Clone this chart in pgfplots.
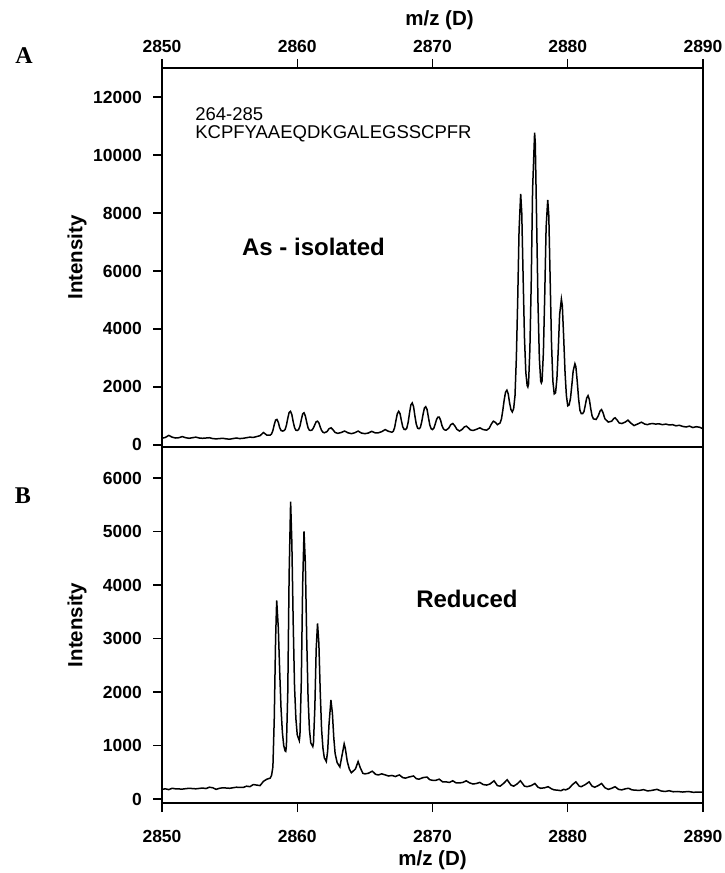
\documentclass[border=0pt]{standalone}
\usepackage{pgfplots}
\pgfplotsset{compat=1.18}
\usepackage{fontspec}
\setmainfont{Liberation Sans}
\newfontfamily\serifbf{Liberation Serif}
\begin{document}
\begin{tikzpicture}
\useasboundingbox (-162pt,-70pt) rectangle (562pt,803pt);
\pgfplotsset{
  every axis/.append style={
    scale only axis, width=541pt,
    xmin=2850, xmax=2890,
    axis line style={line width=1.6pt},
    tick style={line width=1.4pt, black},
    tick align=outside,
    ytick pos=left,
    tick label style={font=\fontsize{17.5}{20}\selectfont\bfseries},
    label style={font=\fontsize{20.5}{23}\selectfont\bfseries},
    xtick={2850,2860,2870,2880,2890},
    /pgf/number format/assume math mode=true,
    /pgf/number format/set thousands separator={},
    yticklabel style={anchor=east, inner sep=0pt},
    yticklabel shift=11pt,
    scaled y ticks=false,
  },
}
% ---------------- bottom panel (B) ----------------
\begin{axis}[
  height=356pt,
  ymin=-75, ymax=6580,
  ytick={0,1000,2000,3000,4000,5000,6000},
  xtick pos=bottom,
  xticklabel pos=bottom,
  major tick length=9pt,
  xticklabel style={anchor=north, inner sep=0pt},
  xticklabel shift=18pt,
  xlabel={m/z (D)},
  xlabel style={at={(axis description cs:0.5,-0.1615)}, anchor=center},
  ylabel={Intensity},
  ylabel style={at={(axis description cs:-0.157,0.5)}, anchor=center},
]
\addplot[black, line width=1.5pt] coordinates {
(2850.0,180) (2850.25,190) (2850.5,175) (2850.75,200) (2851.0,190) (2851.5,185) (2852.0,200) (2852.5,190) (2853.0,205) (2853.25,195) (2853.5,220) (2853.75,210) (2854.0,180) (2854.25,200) (2854.5,210) (2855.0,200) (2855.5,220) (2856.0,215) (2856.25,240) (2856.5,230) (2856.75,270) (2857.0,260) (2857.25,250) (2857.5,330) (2857.75,370) (2858.0,390) (2858.1,440) (2858.2,600)
(2858.3,1500) (2858.4,3000) (2858.48,3710) (2858.6,3200) (2858.7,2400) (2858.8,1700) (2858.9,1250) (2859.0,1000) (2859.1,900) (2859.15,890)
(2859.2,1000) (2859.3,2000) (2859.4,4200) (2859.51,5560) (2859.6,4800) (2859.7,3300) (2859.8,2100) (2859.9,1500) (2860.0,1200) (2860.15,1090)
(2860.2,1200) (2860.3,2200) (2860.4,4000) (2860.5,5000) (2860.6,4400) (2860.7,3000) (2860.8,1900) (2860.9,1300) (2861.0,1050) (2861.15,980)
(2861.2,1050) (2861.3,1700) (2861.4,2800) (2861.5,3280) (2861.6,2900) (2861.7,2000) (2861.8,1300) (2861.9,950) (2862.0,770) (2862.15,700)
(2862.25,900) (2862.35,1400) (2862.49,1850) (2862.6,1600) (2862.7,1150) (2862.8,850) (2862.95,680) (2863.15,600)
(2863.3,800) (2863.47,1030) (2863.55,950) (2863.7,700) (2863.85,560) (2864.0,490)
(2864.3,560) (2864.5,700) (2864.65,590) (2864.85,480) (2865.0,470)
(2865.25,480) (2865.55,520) (2865.8,460) (2866.0,450) (2866.25,470) (2866.5,450) (2866.75,430) (2867.0,440) (2867.25,420) (2867.55,450) (2867.8,400) (2868.0,390) (2868.25,410) (2868.6,430) (2868.8,380) (2869.0,370) (2869.3,400) (2869.6,410) (2869.8,360) (2870.0,350) (2870.25,350) (2870.5,370) (2870.75,320) (2871.0,320) (2871.25,310) (2871.5,340) (2871.75,300) (2872.0,300) (2872.25,310) (2872.5,340) (2872.75,300) (2873.0,280) (2873.25,290) (2873.5,310) (2873.75,270) (2874.0,260) (2874.25,280) (2874.55,340) (2874.8,250) (2875.0,240) (2875.25,290) (2875.52,360) (2875.8,260) (2876.0,240) (2876.25,280) (2876.5,340) (2876.8,240) (2877.0,230) (2877.3,250) (2877.57,290) (2877.8,220) (2878.0,200) (2878.3,210) (2878.55,230) (2878.8,190) (2879.0,170) (2879.25,165) (2879.5,155) (2879.7,180) (2879.85,170) (2880.1,200) (2880.35,270) (2880.6,320) (2880.85,240) (2881.0,230) (2881.3,270) (2881.58,320) (2881.8,240) (2882.0,220) (2882.25,250) (2882.5,290) (2882.75,210) (2883.0,180) (2883.25,200) (2883.5,230) (2883.75,180) (2884.0,170) (2884.25,190) (2884.5,200) (2884.75,170) (2885.0,165) (2885.3,160) (2885.6,175) (2885.9,150) (2886.2,160) (2886.6,180) (2886.9,150) (2887.2,140) (2887.5,155) (2887.8,135) (2888.1,140) (2888.5,130) (2888.9,140) (2889.3,125) (2889.7,130) (2890.0,125)
};
\node[font=\fontsize{24}{28}\selectfont\bfseries] at (axis cs:2872.55,3740) {Reduced};
\end{axis}
% ---------------- top panel (A) ----------------
\begin{axis}[
  at={(0pt,356pt)},
  height=379pt,
  ymin=-70, ymax=13000,
  ytick={0,2000,4000,6000,8000,10000,12000},
  xtick pos=top,
  major tick length=9pt,
  xticklabel pos=top,
  xticklabel style={anchor=south, inner sep=0pt},
  xticklabel shift=6.5pt,
  xlabel={m/z (D)},
  xlabel style={at={(axis description cs:0.513,1.1253)}, anchor=center},
  ylabel={Intensity},
  ylabel style={at={(axis description cs:-0.157,0.5)}, anchor=center},
]
\addplot[black, line width=1.5pt] coordinates {
(2850.0,230) (2850.25,260) (2850.5,330) (2850.75,270) (2851.0,240) (2851.25,250) (2851.5,290) (2851.75,250) (2852.0,230) (2852.5,270) (2852.75,240) (2853.0,230) (2853.5,250) (2853.75,220) (2854.0,210) (2854.5,230) (2854.75,210) (2855.0,200) (2855.5,240) (2855.75,220) (2856.0,230) (2856.5,270) (2856.75,260) (2857.0,290) (2857.25,320) (2857.5,430) (2857.75,340) (2858.0,340)
(2858.1,380) (2858.2,500) (2858.3,700) (2858.4,860) (2858.5,880) (2858.6,780) (2858.7,600) (2858.8,500) (2858.9,480)
(2859.0,490) (2859.1,530) (2859.2,680) (2859.3,920) (2859.4,1120) (2859.5,1160) (2859.6,1050) (2859.7,800) (2859.8,600) (2859.9,510) (2860.0,500)
(2860.1,530) (2860.2,650) (2860.3,870) (2860.4,1070) (2860.5,1110) (2860.6,1000) (2860.7,780) (2860.8,590) (2860.9,510) (2861.0,500)
(2861.1,520) (2861.2,590) (2861.3,700) (2861.4,800) (2861.5,820) (2861.6,760) (2861.7,620) (2861.8,500) (2861.9,440) (2862.0,420)
(2862.2,460) (2862.35,560) (2862.5,590) (2862.65,520) (2862.8,430) (2863.0,400)
(2863.25,430) (2863.5,480) (2863.75,420) (2864.0,390) (2864.25,420) (2864.5,480) (2864.75,410) (2865.0,390) (2865.25,410) (2865.5,470) (2865.75,420) (2866.0,420) (2866.25,460) (2866.5,530) (2866.75,470) (2867.0,440)
(2867.1,470) (2867.2,600) (2867.3,850) (2867.4,1080) (2867.5,1160) (2867.6,1080) (2867.7,840) (2867.8,630) (2867.9,540) (2868.0,530)
(2868.1,580) (2868.2,780) (2868.3,1100) (2868.4,1380) (2868.5,1450) (2868.6,1320) (2868.7,1000) (2868.8,720) (2868.9,580) (2869.0,560)
(2869.1,600) (2869.2,790) (2869.3,1050) (2869.4,1270) (2869.5,1320) (2869.6,1220) (2869.7,950) (2869.8,690) (2869.9,560) (2870.0,530)
(2870.1,580) (2870.2,720) (2870.3,880) (2870.4,960) (2870.5,960) (2870.6,850) (2870.7,670) (2870.8,560) (2870.9,520) (2871.0,510)
(2871.2,580) (2871.35,700) (2871.5,740) (2871.65,660) (2871.8,540) (2872.0,480)
(2872.2,540) (2872.35,620) (2872.5,650) (2872.65,590) (2872.8,520) (2873.0,500)
(2873.25,540) (2873.5,590) (2873.75,530) (2874.0,510)
(2874.2,580) (2874.35,720) (2874.5,820) (2874.65,780) (2874.8,700) (2875.0,760)
(2875.1,900) (2875.2,1200) (2875.3,1550) (2875.4,1820) (2875.5,1890) (2875.6,1760) (2875.7,1450) (2875.8,1220) (2875.9,1140) (2876.0,1250)
(2876.1,1700) (2876.2,3000) (2876.3,5000) (2876.4,7400) (2876.52,8660) (2876.6,8000) (2876.7,5800) (2876.8,3700) (2876.9,2500) (2877.0,2050) (2877.05,2000)
(2877.1,2100) (2877.2,3300) (2877.3,5600) (2877.4,8800) (2877.55,10770) (2877.6,10400) (2877.7,7700) (2877.8,4900) (2877.9,3000) (2878.0,2200) (2878.05,2140)
(2878.1,2200) (2878.2,3200) (2878.3,5200) (2878.4,7500) (2878.52,8450) (2878.6,7900) (2878.7,5700) (2878.8,3500) (2878.9,2200) (2879.0,1760)
(2879.1,1800) (2879.2,2300) (2879.3,3300) (2879.4,4500) (2879.53,5030) (2879.6,4800) (2879.7,3700) (2879.8,2500) (2879.9,1700) (2880.0,1350)
(2880.1,1380) (2880.2,1600) (2880.3,2050) (2880.4,2550) (2880.53,2800) (2880.6,2700) (2880.7,2200) (2880.8,1600) (2880.9,1200) (2881.0,1080) (2881.1,1080)
(2881.2,1150) (2881.3,1380) (2881.4,1620) (2881.5,1700) (2881.6,1560) (2881.7,1250) (2881.8,1000) (2881.9,900) (2882.1,880)
(2882.25,1000) (2882.4,1180) (2882.5,1220) (2882.6,1120) (2882.75,900) (2883.0,790)
(2883.25,820) (2883.4,910) (2883.5,935) (2883.65,860) (2883.8,760) (2884.0,740)
(2884.25,790) (2884.45,855) (2884.65,760) (2884.9,670)
(2885.2,730) (2885.45,785) (2885.7,720) (2885.9,700)
(2886.0,720) (2886.25,740) (2886.5,720) (2886.75,730) (2887.0,700) (2887.25,720) (2887.5,690) (2887.75,700) (2888.0,660) (2888.25,680) (2888.5,640) (2888.75,620) (2889.0,650) (2889.25,600) (2889.5,630) (2889.75,610) (2890.0,560)
};
\node[anchor=west, inner sep=0pt, font=\fontsize{18.5}{21}\selectfont] at (axis cs:2852.45,11415) {264-285};
\node[anchor=west, inner sep=0pt, font=\fontsize{18.5}{21}\selectfont] at (axis cs:2852.45,10727) {KCPFYAAEQDKGALEGSSCPFR};
\node[font=\fontsize{24}{28}\selectfont\bfseries] at (axis cs:2861.2,6835) {As - isolated};
\end{axis}
\node[font=\fontsize{24}{28}\selectfont\serifbf\bfseries] at (-138pt,747pt) {A};
\node[font=\fontsize{24}{28}\selectfont\serifbf\bfseries] at (-139pt,307pt) {B};
\end{tikzpicture}
\end{document}
